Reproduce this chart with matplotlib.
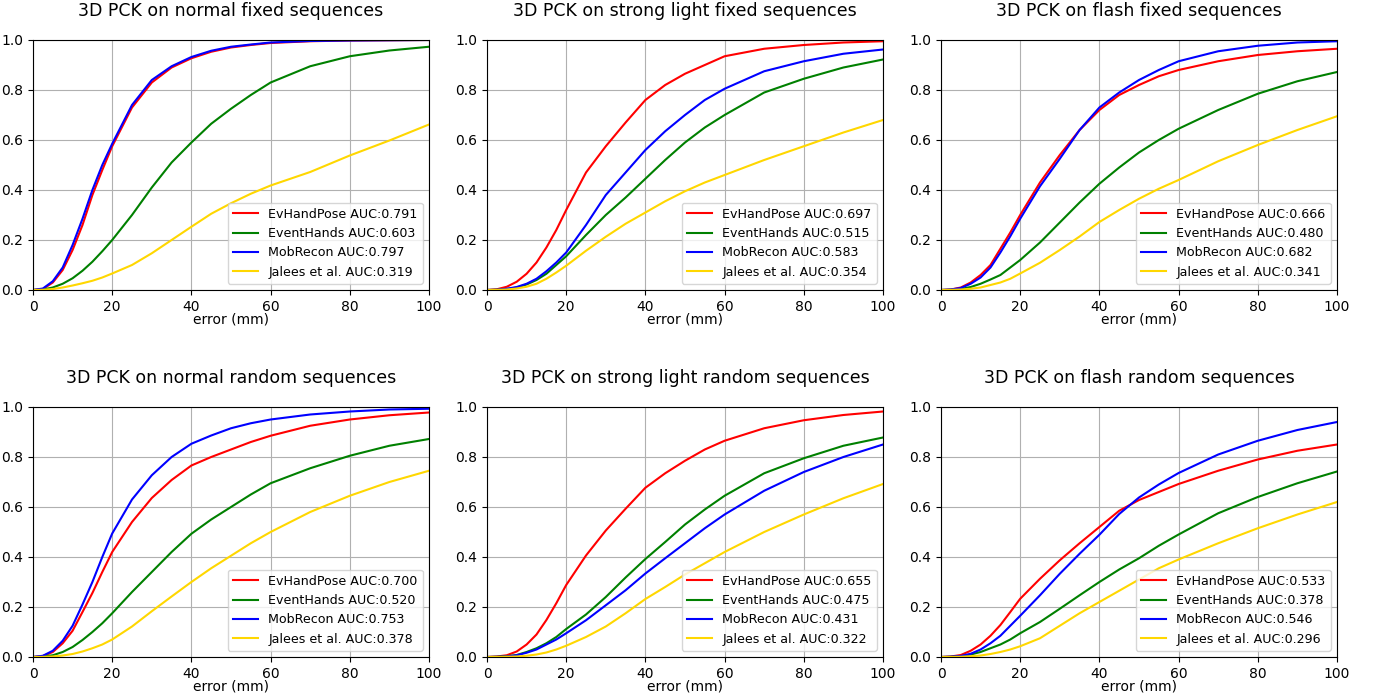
import matplotlib
matplotlib.use("Agg")
import matplotlib.pyplot as plt

# error thresholds (mm)
err = [0, 2.5, 5, 7.5, 10, 12.5, 15, 17.5, 20, 25, 30, 35, 40, 45, 50, 55, 60, 70, 80, 90, 100]

methods = ["EvHandPose", "EventHands", "MobRecon", "Jalees et al."]
colors = ["red", "green", "blue", "gold"]

titles = [
    "3D PCK on normal fixed sequences",
    "3D PCK on strong light fixed sequences",
    "3D PCK on flash fixed sequences",
    "3D PCK on normal random sequences",
    "3D PCK on strong light random sequences",
    "3D PCK on flash random sequences",
]

aucs = [
    [0.791, 0.603, 0.797, 0.319],
    [0.697, 0.515, 0.583, 0.354],
    [0.666, 0.480, 0.682, 0.341],
    [0.700, 0.520, 0.753, 0.378],
    [0.655, 0.475, 0.431, 0.322],
    [0.533, 0.378, 0.546, 0.296],
]

# normal fixed
nf_ev = [0, 0.004, 0.03, 0.08, 0.16, 0.26, 0.38, 0.48, 0.575, 0.73, 0.83, 0.89, 0.927, 0.953, 0.97, 0.98, 0.988, 0.995, 0.998, 0.999, 1.0]
nf_eh = [0, 0.002, 0.01, 0.025, 0.047, 0.077, 0.113, 0.155, 0.20, 0.30, 0.41, 0.51, 0.59, 0.665, 0.725, 0.78, 0.83, 0.895, 0.935, 0.958, 0.973]
nf_mr = [0, 0.006, 0.035, 0.09, 0.18, 0.285, 0.40, 0.50, 0.585, 0.74, 0.84, 0.895, 0.932, 0.957, 0.973, 0.982, 0.99, 0.996, 0.998, 0.999, 1.0]
nf_ja = [0, 0.001, 0.004, 0.01, 0.018, 0.027, 0.037, 0.05, 0.066, 0.10, 0.147, 0.20, 0.253, 0.305, 0.347, 0.385, 0.418, 0.472, 0.538, 0.598, 0.662]

# strong light fixed
sf_ev = [0, 0.003, 0.013, 0.033, 0.065, 0.11, 0.17, 0.24, 0.32, 0.47, 0.575, 0.67, 0.76, 0.82, 0.865, 0.90, 0.935, 0.965, 0.98, 0.99, 0.995]
sf_eh = [0, 0.001, 0.004, 0.01, 0.022, 0.04, 0.065, 0.10, 0.135, 0.22, 0.30, 0.37, 0.445, 0.52, 0.59, 0.65, 0.70, 0.79, 0.845, 0.89, 0.922]
sf_mr = [0, 0.001, 0.005, 0.012, 0.025, 0.045, 0.075, 0.11, 0.15, 0.26, 0.38, 0.47, 0.56, 0.635, 0.70, 0.76, 0.805, 0.875, 0.915, 0.945, 0.962]
sf_ja = [0, 0.0005, 0.002, 0.006, 0.013, 0.025, 0.045, 0.07, 0.097, 0.157, 0.213, 0.265, 0.31, 0.355, 0.395, 0.43, 0.46, 0.52, 0.575, 0.63, 0.68]

# flash fixed
ff_ev = [0, 0.002, 0.01, 0.03, 0.06, 0.10, 0.165, 0.23, 0.30, 0.43, 0.54, 0.64, 0.72, 0.78, 0.82, 0.855, 0.88, 0.915, 0.94, 0.955, 0.965]
ff_eh = [0, 0.001, 0.004, 0.012, 0.025, 0.042, 0.06, 0.09, 0.12, 0.19, 0.27, 0.35, 0.425, 0.49, 0.55, 0.60, 0.645, 0.72, 0.785, 0.835, 0.872]
ff_mr = [0, 0.002, 0.008, 0.025, 0.05, 0.09, 0.15, 0.215, 0.285, 0.415, 0.525, 0.64, 0.73, 0.79, 0.84, 0.88, 0.915, 0.955, 0.977, 0.99, 0.995]
ff_ja = [0, 0.0005, 0.002, 0.005, 0.01, 0.02, 0.03, 0.045, 0.066, 0.109, 0.16, 0.214, 0.272, 0.32, 0.365, 0.405, 0.44, 0.515, 0.58, 0.64, 0.695]

# normal random
nr_ev = [0, 0.004, 0.02, 0.055, 0.105, 0.18, 0.256, 0.34, 0.42, 0.54, 0.636, 0.708, 0.766, 0.80, 0.83, 0.86, 0.885, 0.925, 0.95, 0.967, 0.978]
nr_eh = [0, 0.002, 0.007, 0.02, 0.04, 0.068, 0.10, 0.135, 0.175, 0.26, 0.34, 0.42, 0.493, 0.55, 0.60, 0.65, 0.695, 0.755, 0.805, 0.845, 0.872]
nr_mr = [0, 0.005, 0.025, 0.065, 0.125, 0.21, 0.30, 0.40, 0.494, 0.63, 0.727, 0.80, 0.853, 0.886, 0.915, 0.935, 0.95, 0.97, 0.982, 0.99, 0.993]
nr_ja = [0, 0.0005, 0.002, 0.006, 0.012, 0.022, 0.035, 0.05, 0.07, 0.122, 0.183, 0.242, 0.30, 0.355, 0.405, 0.455, 0.50, 0.58, 0.645, 0.70, 0.745]

# strong light random
sr_ev = [0, 0.002, 0.007, 0.022, 0.05, 0.09, 0.148, 0.215, 0.288, 0.406, 0.506, 0.593, 0.677, 0.735, 0.785, 0.83, 0.865, 0.915, 0.947, 0.968, 0.982]
sr_eh = [0, 0.001, 0.003, 0.008, 0.02, 0.035, 0.055, 0.08, 0.112, 0.17, 0.24, 0.318, 0.392, 0.46, 0.53, 0.59, 0.645, 0.735, 0.795, 0.845, 0.878]
sr_mr = [0, 0.0005, 0.002, 0.007, 0.017, 0.03, 0.05, 0.07, 0.095, 0.147, 0.207, 0.267, 0.334, 0.395, 0.455, 0.515, 0.57, 0.665, 0.74, 0.80, 0.85]
sr_ja = [0, 0.0, 0.001, 0.002, 0.005, 0.01, 0.018, 0.03, 0.045, 0.08, 0.122, 0.175, 0.232, 0.28, 0.33, 0.375, 0.42, 0.50, 0.57, 0.635, 0.692]

# flash random
fr_ev = [0, 0.002, 0.008, 0.025, 0.05, 0.085, 0.128, 0.18, 0.233, 0.313, 0.387, 0.455, 0.52, 0.585, 0.628, 0.66, 0.692, 0.745, 0.79, 0.825, 0.85]
fr_eh = [0, 0.001, 0.003, 0.01, 0.02, 0.035, 0.05, 0.07, 0.095, 0.14, 0.193, 0.247, 0.30, 0.35, 0.395, 0.445, 0.49, 0.575, 0.64, 0.695, 0.742]
fr_mr = [0, 0.001, 0.004, 0.013, 0.03, 0.055, 0.085, 0.125, 0.165, 0.247, 0.333, 0.413, 0.489, 0.572, 0.638, 0.69, 0.736, 0.81, 0.865, 0.908, 0.94]
fr_ja = [0, 0.0, 0.001, 0.003, 0.006, 0.012, 0.02, 0.03, 0.043, 0.075, 0.125, 0.175, 0.22, 0.265, 0.31, 0.355, 0.39, 0.455, 0.515, 0.57, 0.62]

panels = [
    [nf_ev, nf_eh, nf_mr, nf_ja],
    [sf_ev, sf_eh, sf_mr, sf_ja],
    [ff_ev, ff_eh, ff_mr, ff_ja],
    [nr_ev, nr_eh, nr_mr, nr_ja],
    [sr_ev, sr_eh, sr_mr, sr_ja],
    [fr_ev, fr_eh, fr_mr, fr_ja],
]

W, H = 1378, 698
fig = plt.figure(figsize=(W / 100, H / 100), dpi=100)
lefts = [33, 487, 941]
tops = [40, 407]
aw, ah = 396, 250

for i in range(6):
    r, c = divmod(i, 3)
    l = lefts[c] / W
    b = (H - tops[r] - ah) / H
    ax = fig.add_axes([l, b, aw / W, ah / H])
    for vals, name, col, auc in zip(panels[i], methods, colors, aucs[i]):
        ax.plot(err, vals, color=col, lw=1.5, label=f"{name} AUC:{auc:.3f}")
    ax.set_xlim(0, 100)
    ax.set_ylim(0, 1.0)
    ax.set_xticks([0, 20, 40, 60, 80, 100])
    ax.set_yticks([0.0, 0.2, 0.4, 0.6, 0.8, 1.0])
    ax.tick_params(labelsize=10)
    ax.grid(True)
    ax.set_xlabel("error (mm)", fontsize=10, labelpad=-1)
    ax.set_title(titles[i], fontsize=12.5, pad=17)
    ax.legend(loc="lower right", fontsize=9.1)

fig.savefig("out.png", dpi=100)
